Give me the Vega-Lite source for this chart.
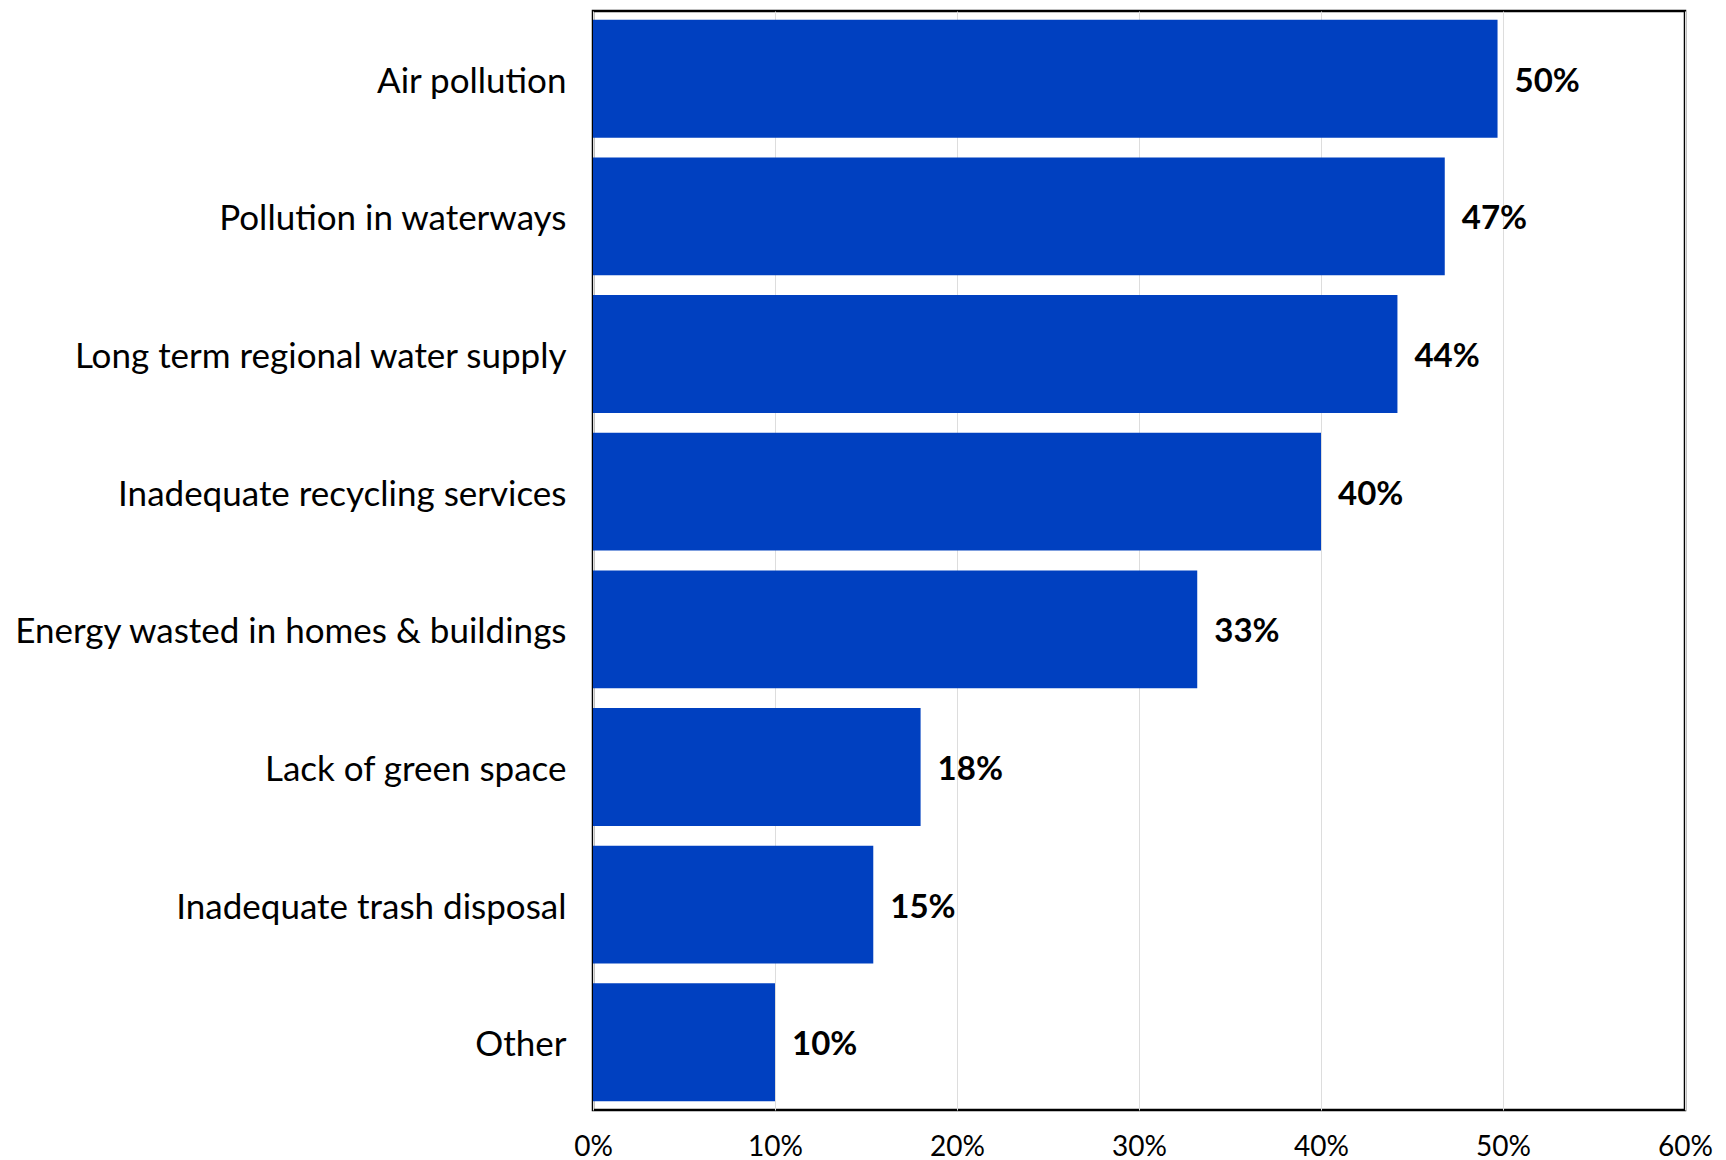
{
  "$schema": "https://vega.github.io/schema/vega-lite/v6.json",
  "autosize": {"type": "none"},
  "padding": {"left": 593, "top": 11, "right": 41, "bottom": 50},
  "width": 1092,
  "height": 1099,
  "background": "white",
  "config": {
    "view": {"stroke": "#000000", "strokeWidth": 2.5},
    "font": "Lato"
  },
  "data": {
    "values": [
      {"issue": "Air pollution", "share": 0.497},
      {"issue": "Pollution in waterways", "share": 0.468},
      {"issue": "Long term regional water supply", "share": 0.442},
      {"issue": "Inadequate recycling services", "share": 0.400},
      {"issue": "Energy wasted in homes & buildings", "share": 0.332},
      {"issue": "Lack of green space", "share": 0.180},
      {"issue": "Inadequate trash disposal", "share": 0.154},
      {"issue": "Other", "share": 0.100}
    ]
  },
  "encoding": {
    "y": {
      "field": "issue",
      "type": "nominal",
      "sort": null,
      "scale": {"paddingInner": 0.144, "paddingOuter": 0.064},
      "axis": {
        "title": null,
        "ticks": false,
        "domain": false,
        "labelFontSize": 35,
        "labelColor": "#000000",
        "labelPadding": 27,
        "labelOffset": 3,
        "labelLimit": 700,
        "labelFont": "Lato"
      }
    },
    "x": {
      "field": "share",
      "type": "quantitative",
      "scale": {"domain": [0, 0.6], "nice": false},
      "axis": {
        "title": null,
        "format": ".0%",
        "values": [0, 0.1, 0.2, 0.3, 0.4, 0.5, 0.6],
        "ticks": false,
        "domain": false,
        "grid": true,
        "gridColor": "#dddddd",
        "gridWidth": 1,
        "labelFontSize": 28,
        "labelColor": "#000000",
        "labelPadding": 23,
        "labelFlush": false,
        "labelFont": "Lato"
      }
    }
  },
  "layer": [
    {"mark": {"type": "bar", "color": "#0040C0"}},
    {
      "mark": {"type": "text", "align": "left", "baseline": "middle", "dx": 17, "dy": 3, "fontSize": 33, "fontWeight": "bold", "color": "#000000", "font": "Lato"},
      "encoding": {"text": {"field": "share", "type": "quantitative", "format": ".0%"}}
    }
  ]
}
